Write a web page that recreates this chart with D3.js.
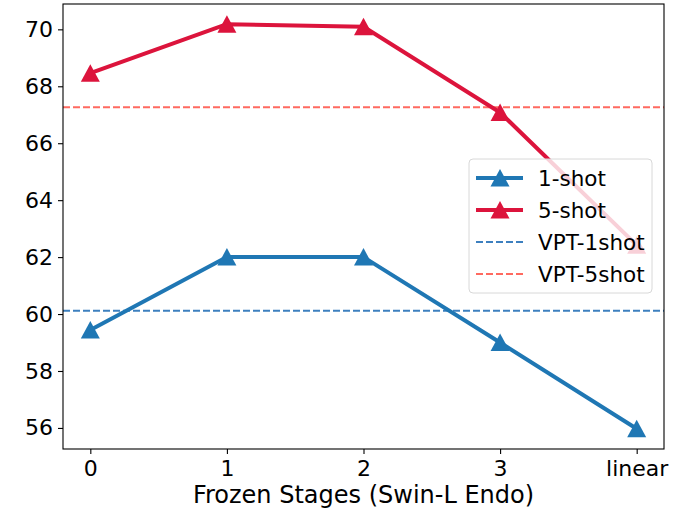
<!DOCTYPE html>
<html>
<head>
<meta charset="utf-8">
<script src="https://cdn.jsdelivr.net/npm/d3@7"></script>
<style>
  body { margin: 0; background: #fff; }
  text { font-family: "DejaVu Sans", sans-serif; fill: #000; }
</style>
</head>
<body>
<div id="chart"></div>
<script>
// data
var stages = ["0", "1", "2", "3", "linear"];
var oneShot = [59.44, 62.0, 62.0, 59.0, 55.97];
var fiveShot = [68.46, 70.18, 70.09, 67.08, 62.42];
var vpt1shot = 60.12;
var vpt5shot = 67.26;
var yTicks = [56, 58, 60, 62, 64, 66, 68, 70];
var yLimits = [55.26, 70.89];
var xLimits = [-0.2, 4.2];

// margins setup
var width = 681, height = 513;
var margins = {top: 4, right: 17, bottom: 64, left: 63};
var chartWidth = width - margins.left - margins.right;
var chartHeight = height - margins.top - margins.bottom;

var svg = d3.select("#chart").append("svg")
    .attr("width", width)
    .attr("height", height);

var cht = svg.append("g")
    .attr("transform", "translate(" + margins.left + "," + margins.top + ")");

// scales
var xScale = d3.scaleLinear().domain(xLimits).range([0, chartWidth]);
var yScale = d3.scaleLinear().domain(yLimits).range([chartHeight, 0]);

// axes
var xAxis = d3.axisBottom(xScale)
    .tickValues(d3.range(stages.length))
    .tickFormat(function(d) { return stages[d]; })
    .tickSize(5).tickPadding(5);
var yAxis = d3.axisLeft(yScale)
    .tickValues(yTicks)
    .tickFormat(d3.format("d"))
    .tickSize(5).tickPadding(5);

var axiX = cht.append("g")
    .attr("transform", "translate(0," + chartHeight + ")")
    .call(xAxis);
var axiY = cht.append("g").call(yAxis);

[axiX, axiY].forEach(function(a) {
    a.select(".domain").remove();
    a.selectAll(".tick line").attr("stroke", "#000").attr("stroke-width", 1.1);
    a.selectAll(".tick text")
        .style("font-size", "22px")
        .style("font-family", "DejaVu Sans, sans-serif")
        .attr("fill", "#000");
});
axiX.selectAll(".tick text").attr("dy", "0.76em");

// reference lines
var refs = [
    {v: vpt1shot, color: "#3d80bf"},
    {v: vpt5shot, color: "#ff6a60"}
];
cht.selectAll(".ref")
    .data(refs)
    .enter().append("line")
    .attr("x1", 0).attr("x2", chartWidth)
    .attr("y1", function(d) { return yScale(d.v); })
    .attr("y2", function(d) { return yScale(d.v); })
    .attr("stroke", function(d) { return d.color; })
    .attr("stroke-width", 2)
    .attr("stroke-dasharray", "7,3");

// series
var series = [
    {name: "1-shot", values: oneShot, color: "#1f77b4"},
    {name: "5-shot", values: fiveShot, color: "#dc143c"}
];

var line = d3.line()
    .x(function(d, i) { return xScale(i); })
    .y(function(d) { return yScale(d); });

var triangle = "M0,-9L9.5,8.5L-9.5,8.5Z";

series.forEach(function(s) {
    cht.append("path")
        .datum(s.values)
        .attr("d", line)
        .attr("fill", "none")
        .attr("stroke", s.color)
        .attr("stroke-width", 4)
        .attr("stroke-linejoin", "round");

    cht.selectAll(null)
        .data(s.values)
        .enter().append("path")
        .attr("d", triangle)
        .attr("transform", function(d, i) {
            return "translate(" + xScale(i) + "," + yScale(d) + ")";
        })
        .attr("fill", s.color);
});

// spines
cht.append("rect")
    .attr("x", 0).attr("y", 0)
    .attr("width", chartWidth).attr("height", chartHeight)
    .attr("fill", "none")
    .attr("stroke", "#000")
    .attr("stroke-width", 1.1);

// x label
svg.append("text")
    .attr("x", margins.left + chartWidth / 2)
    .attr("y", 503)
    .attr("text-anchor", "middle")
    .style("font-size", "24px")
    .text("Frozen Stages (Swin-L Endo)");

// legend
var leg = svg.append("g").attr("transform", "translate(469,159)");
leg.append("rect")
    .attr("width", 183).attr("height", 134)
    .attr("rx", 4)
    .attr("fill", "#fff").attr("fill-opacity", 0.8)
    .attr("stroke", "#d8d8d8").attr("stroke-width", 1);

var legItems = [
    {name: "1-shot", color: "#1f77b4", marker: true},
    {name: "5-shot", color: "#dc143c", marker: true},
    {name: "VPT-1shot", color: "#3d80bf", marker: false},
    {name: "VPT-5shot", color: "#ff6a60", marker: false}
];
var items = leg.selectAll(".item")
    .data(legItems)
    .enter().append("g")
    .attr("transform", function(d, i) { return "translate(0," + (19 + i * 32) + ")"; });

items.append("line")
    .attr("x1", 7).attr("x2", 54)
    .attr("stroke", function(d) { return d.color; })
    .attr("stroke-width", function(d) { return d.marker ? 4 : 2; })
    .attr("stroke-dasharray", function(d) { return d.marker ? null : "7,3"; });
items.filter(function(d) { return d.marker; })
    .append("path")
    .attr("d", triangle)
    .attr("transform", "translate(31,0)")
    .attr("fill", function(d) { return d.color; });
items.append("text")
    .attr("x", 69)
    .attr("dy", "0.36em")
    .style("font-size", "21.5px")
    .text(function(d) { return d.name; });
</script>
</body>
</html>
